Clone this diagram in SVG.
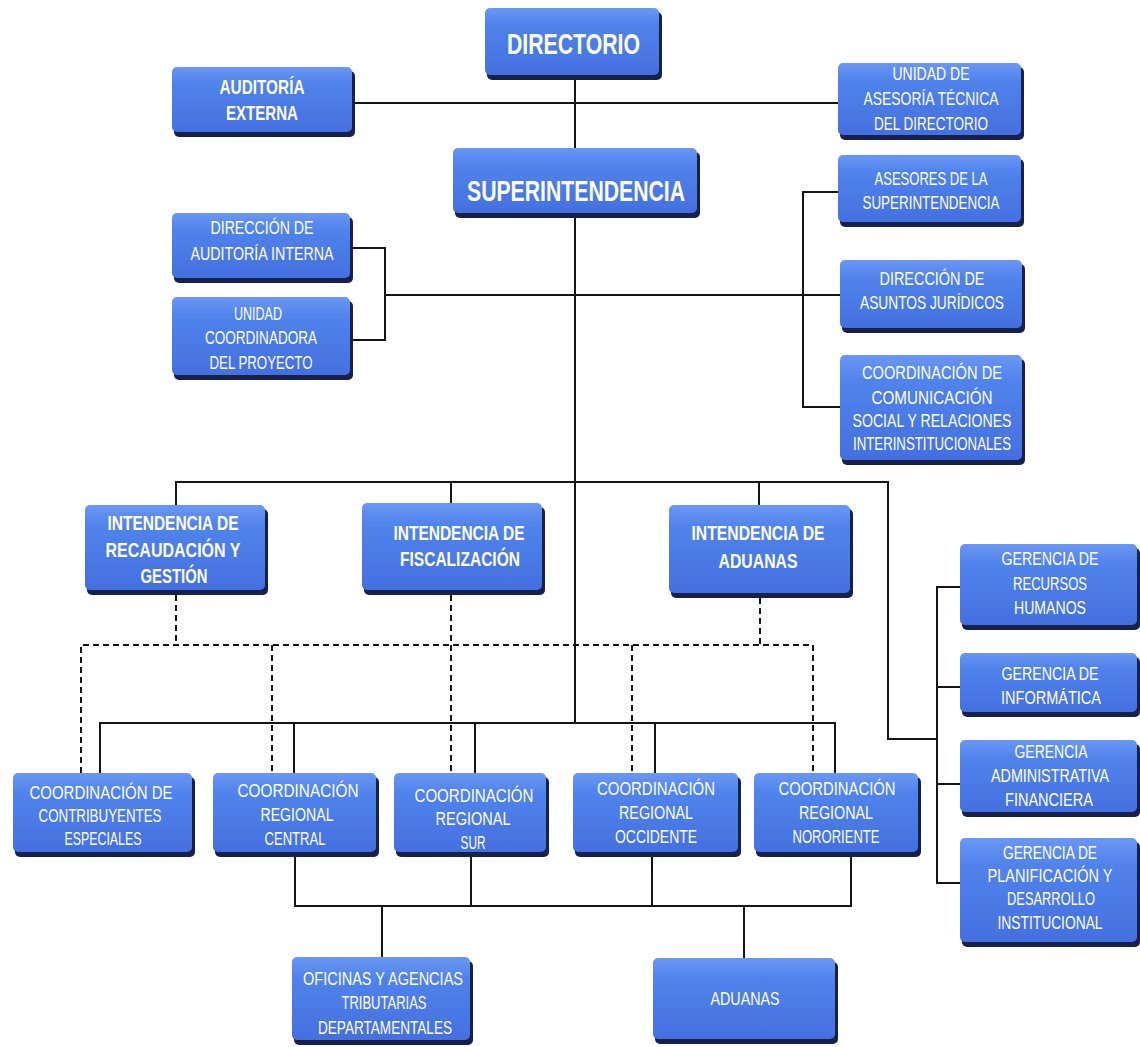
<svg xmlns="http://www.w3.org/2000/svg" width="1140" height="1047" viewBox="0 0 1140 1047">
<defs>
<linearGradient id="bg" x1="0" y1="0" x2="0" y2="1">
<stop offset="0" stop-color="#6b97f3"/>
<stop offset="0.25" stop-color="#5083ec"/>
<stop offset="1" stop-color="#4470df"/>
</linearGradient>
</defs>
<style>
.sh{fill:#17214d}
.bx{fill:url(#bg)}
.ln{fill:none;stroke:#151515;stroke-width:2}
.ds{fill:none;stroke:#151515;stroke-width:2;stroke-dasharray:6 4}
text{font-family:"Liberation Sans",Arial,sans-serif;fill:#ffffff;text-anchor:middle}
.r{font-size:18px}
.b{font-size:21px;font-weight:bold}
.bb{font-size:30px;font-weight:bold}
.bm{font-size:20px;font-weight:bold}
</style>
<rect width="1140" height="1047" fill="#ffffff"/>
<g id="connectors">
<path class="ln" d="M575,78 V148 M575,218 V723"/>
<path class="ln" d="M355,103 H838"/>
<path class="ln" d="M385,295 H840"/>
<path class="ln" d="M353,248 H385 V340 H353"/>
<path class="ln" d="M838,192 H803 V407 H840"/>
<path class="ln" d="M176,505 V482 H888 V739 H937 M451,482 V503 M759,482 V505"/>
<path class="ln" d="M960,587 H937 V883 H960 M937,687 H960 M937,784 H960"/>
<path class="ln" d="M100,773 V723 H835 V773 M294,723 V773 M475,723 V773 M655,723 V773"/>
<path class="ln" d="M295,855 V906 H851 V855 M471,855 V906 M652,855 V906 M382,906 V957 M744,906 V958"/>
<path class="ds" d="M176,595 V645 M81,773 V645 H813 V773 M272,645 V773 M451,595 V773 M632,645 V773 M760,598 V645"/>
</g>
<g id="directorio"><rect class="sh" x="487" y="12" width="175" height="68" rx="5"/><rect class="bx" x="485" y="8" width="174" height="67" rx="5"/>
<text class="bb" x="573.5" y="54" textLength="133" lengthAdjust="spacingAndGlyphs">DIRECTORIO</text></g>
<g id="auditoria-externa"><rect class="sh" x="174" y="71" width="181" height="66" rx="5"/><rect class="bx" x="172" y="67" width="180" height="65" rx="5"/>
<text class="bm" x="262" y="94" textLength="85" lengthAdjust="spacingAndGlyphs">AUDITORÍA</text>
<text class="bm" x="262" y="120" textLength="72" lengthAdjust="spacingAndGlyphs">EXTERNA</text></g>
<g id="unidad-asesoria"><rect class="sh" x="840" y="67" width="184" height="73" rx="5"/><rect class="bx" x="838" y="63" width="183" height="72" rx="5"/>
<text class="r" x="931" y="79.5" textLength="77" lengthAdjust="spacingAndGlyphs">UNIDAD DE</text>
<text class="r" x="931" y="104.5" textLength="135" lengthAdjust="spacingAndGlyphs">ASESORÍA TÉCNICA</text>
<text class="r" x="931" y="129.5" textLength="114" lengthAdjust="spacingAndGlyphs">DEL DIRECTORIO</text></g>
<g id="superintendencia"><rect class="sh" x="455" y="152" width="245" height="66" rx="5"/><rect class="bx" x="453" y="148" width="244" height="65" rx="5"/>
<text class="bb" x="576" y="201" textLength="218" lengthAdjust="spacingAndGlyphs">SUPERINTENDENCIA</text></g>
<g id="asesores"><rect class="sh" x="840" y="159" width="184" height="68" rx="5"/><rect class="bx" x="838" y="155" width="183" height="67" rx="5"/>
<text class="r" x="931" y="184.5" textLength="113" lengthAdjust="spacingAndGlyphs">ASESORES DE LA</text>
<text class="r" x="931" y="208.5" textLength="137" lengthAdjust="spacingAndGlyphs">SUPERINTENDENCIA</text></g>
<g id="direccion-auditoria-interna"><rect class="sh" x="174" y="217" width="179" height="66" rx="5"/><rect class="bx" x="172" y="213" width="178" height="65" rx="5"/>
<text class="r" x="262" y="233.5" textLength="103" lengthAdjust="spacingAndGlyphs">DIRECCIÓN DE</text>
<text class="r" x="262" y="259.5" textLength="143" lengthAdjust="spacingAndGlyphs">AUDITORÍA INTERNA</text></g>
<g id="unidad-coordinadora"><rect class="sh" x="174" y="301" width="179" height="79" rx="5"/><rect class="bx" x="172" y="297" width="178" height="78" rx="5"/>
<text class="r" x="258" y="319.5" textLength="48" lengthAdjust="spacingAndGlyphs">UNIDAD</text>
<text class="r" x="261" y="343.5" textLength="112" lengthAdjust="spacingAndGlyphs">COORDINADORA</text>
<text class="r" x="261" y="368.5" textLength="103" lengthAdjust="spacingAndGlyphs">DEL PROYECTO</text></g>
<g id="asuntos-juridicos"><rect class="sh" x="842" y="264" width="183" height="69" rx="5"/><rect class="bx" x="840" y="260" width="182" height="68" rx="5"/>
<text class="r" x="932" y="284.5" textLength="105" lengthAdjust="spacingAndGlyphs">DIRECCIÓN DE</text>
<text class="r" x="932" y="308.5" textLength="144" lengthAdjust="spacingAndGlyphs">ASUNTOS JURÍDICOS</text></g>
<g id="comunicacion-social"><rect class="sh" x="842" y="359" width="183" height="106" rx="5"/><rect class="bx" x="840" y="355" width="182" height="105" rx="5"/>
<text class="r" x="932" y="378.5" textLength="140" lengthAdjust="spacingAndGlyphs">COORDINACIÓN DE</text>
<text class="r" x="932" y="403.5" textLength="121" lengthAdjust="spacingAndGlyphs">COMUNICACIÓN</text>
<text class="r" x="932" y="426.5" textLength="159" lengthAdjust="spacingAndGlyphs">SOCIAL Y RELACIONES</text>
<text class="r" x="932" y="449.5" textLength="158" lengthAdjust="spacingAndGlyphs">INTERINSTITUCIONALES</text></g>
<g id="intendencia-recaudacion"><rect class="sh" x="87" y="509" width="181" height="86" rx="5"/><rect class="bx" x="85" y="505" width="180" height="85" rx="5"/>
<text class="b" x="173" y="529.5" textLength="131" lengthAdjust="spacingAndGlyphs">INTENDENCIA DE</text>
<text class="b" x="173" y="556.5" textLength="135" lengthAdjust="spacingAndGlyphs">RECAUDACIÓN Y</text>
<text class="b" x="174" y="582.5" textLength="67" lengthAdjust="spacingAndGlyphs">GESTIÓN</text></g>
<g id="intendencia-fiscalizacion"><rect class="sh" x="364" y="507" width="181" height="88" rx="5"/><rect class="bx" x="362" y="503" width="180" height="87" rx="5"/>
<text class="b" x="459" y="539.5" textLength="131" lengthAdjust="spacingAndGlyphs">INTENDENCIA DE</text>
<text class="b" x="460" y="565.5" textLength="120" lengthAdjust="spacingAndGlyphs">FISCALIZACIÓN</text></g>
<g id="intendencia-aduanas"><rect class="sh" x="671" y="509" width="182" height="89" rx="5"/><rect class="bx" x="669" y="505" width="181" height="88" rx="5"/>
<text class="b" x="758" y="539.5" textLength="133" lengthAdjust="spacingAndGlyphs">INTENDENCIA DE</text>
<text class="b" x="758" y="567.5" textLength="79" lengthAdjust="spacingAndGlyphs">ADUANAS</text></g>
<g id="gerencia-rrhh"><rect class="sh" x="962" y="548" width="178" height="82" rx="5"/><rect class="bx" x="960" y="544" width="177" height="81" rx="5"/>
<text class="r" x="1050" y="564.5" textLength="97" lengthAdjust="spacingAndGlyphs">GERENCIA DE</text>
<text class="r" x="1050" y="589.5" textLength="74" lengthAdjust="spacingAndGlyphs">RECURSOS</text>
<text class="r" x="1050" y="613.5" textLength="72" lengthAdjust="spacingAndGlyphs">HUMANOS</text></g>
<g id="gerencia-informatica"><rect class="sh" x="962" y="657" width="178" height="60" rx="5"/><rect class="bx" x="960" y="653" width="177" height="59" rx="5"/>
<text class="r" x="1050" y="679.5" textLength="97" lengthAdjust="spacingAndGlyphs">GERENCIA DE</text>
<text class="r" x="1051" y="703.5" textLength="100" lengthAdjust="spacingAndGlyphs">INFORMÁTICA</text></g>
<g id="gerencia-administrativa"><rect class="sh" x="962" y="744" width="178" height="73" rx="5"/><rect class="bx" x="960" y="740" width="177" height="72" rx="5"/>
<text class="r" x="1051" y="757.5" textLength="73" lengthAdjust="spacingAndGlyphs">GERENCIA</text>
<text class="r" x="1050" y="781.5" textLength="118" lengthAdjust="spacingAndGlyphs">ADMINISTRATIVA</text>
<text class="r" x="1049" y="805.5" textLength="88" lengthAdjust="spacingAndGlyphs">FINANCIERA</text></g>
<g id="gerencia-planificacion"><rect class="sh" x="962" y="842" width="178" height="105" rx="5"/><rect class="bx" x="960" y="838" width="177" height="104" rx="5"/>
<text class="r" x="1050" y="858.5" textLength="94" lengthAdjust="spacingAndGlyphs">GERENCIA DE</text>
<text class="r" x="1050" y="881.5" textLength="125" lengthAdjust="spacingAndGlyphs">PLANIFICACIÓN Y</text>
<text class="r" x="1051" y="904.5" textLength="88" lengthAdjust="spacingAndGlyphs">DESARROLLO</text>
<text class="r" x="1050" y="928.5" textLength="105" lengthAdjust="spacingAndGlyphs">INSTITUCIONAL</text></g>
<g id="coord-contribuyentes"><rect class="sh" x="15" y="777" width="180" height="80" rx="5"/><rect class="bx" x="13" y="773" width="179" height="79" rx="5"/>
<text class="r" x="101" y="798.5" textLength="143" lengthAdjust="spacingAndGlyphs">COORDINACIÓN DE</text>
<text class="r" x="100" y="821.5" textLength="123" lengthAdjust="spacingAndGlyphs">CONTRIBUYENTES</text>
<text class="r" x="103" y="844.5" textLength="77" lengthAdjust="spacingAndGlyphs">ESPECIALES</text></g>
<g id="coord-central"><rect class="sh" x="215" y="777" width="164" height="80" rx="5"/><rect class="bx" x="213" y="773" width="163" height="79" rx="5"/>
<text class="r" x="298" y="796.5" textLength="121" lengthAdjust="spacingAndGlyphs">COORDINACIÓN</text>
<text class="r" x="297" y="820.5" textLength="73" lengthAdjust="spacingAndGlyphs">REGIONAL</text>
<text class="r" x="295" y="844.5" textLength="61" lengthAdjust="spacingAndGlyphs">CENTRAL</text></g>
<g id="coord-sur"><rect class="sh" x="396" y="777" width="153" height="80" rx="5"/><rect class="bx" x="394" y="773" width="152" height="79" rx="5"/>
<text class="r" x="474" y="801.5" textLength="119" lengthAdjust="spacingAndGlyphs">COORDINACIÓN</text>
<text class="r" x="473" y="824.5" textLength="75" lengthAdjust="spacingAndGlyphs">REGIONAL</text>
<text class="r" x="473" y="848.5" textLength="25" lengthAdjust="spacingAndGlyphs">SUR</text></g>
<g id="coord-occidente"><rect class="sh" x="575" y="777" width="166" height="80" rx="5"/><rect class="bx" x="573" y="773" width="165" height="79" rx="5"/>
<text class="r" x="656" y="794.5" textLength="118" lengthAdjust="spacingAndGlyphs">COORDINACIÓN</text>
<text class="r" x="656" y="818.5" textLength="74" lengthAdjust="spacingAndGlyphs">REGIONAL</text>
<text class="r" x="656" y="842.5" textLength="82" lengthAdjust="spacingAndGlyphs">OCCIDENTE</text></g>
<g id="coord-nororiente"><rect class="sh" x="756" y="777" width="165" height="80" rx="5"/><rect class="bx" x="754" y="773" width="164" height="79" rx="5"/>
<text class="r" x="837" y="794.5" textLength="117" lengthAdjust="spacingAndGlyphs">COORDINACIÓN</text>
<text class="r" x="836" y="818.5" textLength="74" lengthAdjust="spacingAndGlyphs">REGIONAL</text>
<text class="r" x="836" y="842.5" textLength="87" lengthAdjust="spacingAndGlyphs">NORORIENTE</text></g>
<g id="oficinas-agencias"><rect class="sh" x="294" y="961" width="179" height="84" rx="5"/><rect class="bx" x="292" y="957" width="178" height="83" rx="5"/>
<text class="r" x="383" y="984.5" textLength="160" lengthAdjust="spacingAndGlyphs">OFICINAS Y AGENCIAS</text>
<text class="r" x="384" y="1008.5" textLength="85" lengthAdjust="spacingAndGlyphs">TRIBUTARIAS</text>
<text class="r" x="385" y="1033.5" textLength="134" lengthAdjust="spacingAndGlyphs">DEPARTAMENTALES</text></g>
<g id="aduanas"><rect class="sh" x="655" y="962" width="183" height="82" rx="5"/><rect class="bx" x="653" y="958" width="182" height="81" rx="5"/>
<text class="r" x="745" y="1004.5" textLength="69" lengthAdjust="spacingAndGlyphs">ADUANAS</text></g>
</svg>
